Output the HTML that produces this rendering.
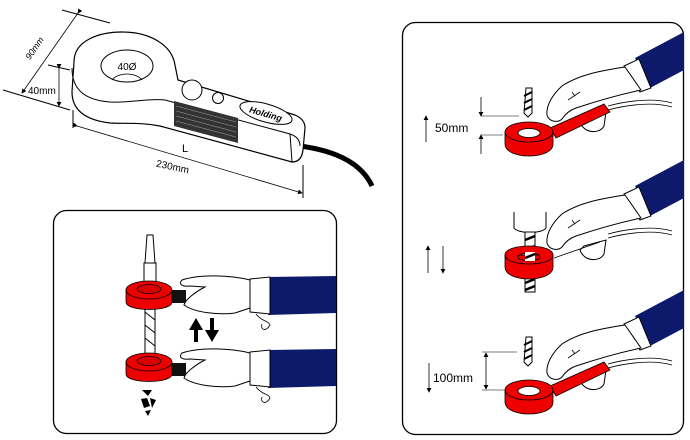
<!DOCTYPE html>
<html><head><meta charset="utf-8"><style>
html,body{margin:0;padding:0;background:#fff;}
svg{display:block;}
text{font-family:"Liberation Sans",sans-serif;}
</style></head><body>
<svg width="690" height="440" viewBox="0 0 690 440" xmlns="http://www.w3.org/2000/svg">
<defs>
<marker id="ah" markerWidth="6" markerHeight="6" refX="5" refY="3" orient="auto"><path d="M0,0 L6,3 L0,6 z" fill="#000"/></marker>
<g id="rhand">
  <path d="M635,58 L684,32 L684,70 L650,88 Z" fill="#0d1a6b"/>
  <path d="M624,66 L639,59 L651,88 L640,92 Z" fill="#fff" stroke="#000" stroke-width="1"/>
  <path d="M625,67 C605,70 580,74 562,86 C552,95 546,106 547,115 C549,122 558,123 562,119 C566,113 570,110 576,108 C600,100 622,94 641,90 Z" fill="#fff" stroke="#000" stroke-width="1"/>
  <path d="M580,122 C584,134 600,134 604,126 L606,112 L584,118 Z" fill="#fff" stroke="#000" stroke-width="1"/>
  <path d="M568,100 L580,92 M575,96 L572,92" stroke="#000" fill="none" stroke-width="0.8"/>
  <path d="M608,106 C630,100 655,98 672,103 M608,110 C630,104 655,102 672,107" stroke="#000" fill="none" stroke-width="0.8"/>
</g>
</defs>

<!-- ===== Top-left device ===== -->
<g stroke="#000" stroke-width="1" fill="none">
  <line x1="62" y1="10" x2="110" y2="23"/>
  <line x1="3" y1="90" x2="70" y2="110"/>
  <line x1="78" y1="13" x2="22" y2="93" marker-start="url(#ah)" marker-end="url(#ah)" stroke-width="0.8"/>
  <line x1="48" y1="65" x2="70" y2="70"/>
  <line x1="59" y1="68" x2="59" y2="106" marker-start="url(#ah)" marker-end="url(#ah)" stroke-width="0.8"/>
  <line x1="73" y1="110" x2="73" y2="128"/>
  <line x1="303" y1="165" x2="303" y2="198"/>
  <line x1="77" y1="126" x2="302" y2="193" marker-start="url(#ah)" marker-end="url(#ah)" stroke-width="0.8"/>
</g>
<path d="M300,146 C330,150 360,160 372,186" stroke="#000" stroke-width="5" fill="none"/>
<path d="M74,62 C74,40 100,32 122,32 C150,32 172,45 175,65 L178,80 L295,115 C302,118 305,122 305,128 L303,150 C302,158 298,162 292,162 L160,126 C140,122 125,124 110,123 C85,120 72,110 72,92 Z" fill="#fff" stroke="#000" stroke-width="1.2"/>
<path d="M72,68 C72,90 85,100 110,102 C130,103 150,98 165,100 L290,134 C296,136 300,140 300,146 M290,134 L292,162" fill="none" stroke="#000" stroke-width="1"/>
<ellipse cx="127" cy="66" rx="26" ry="16" fill="#fff" stroke="#000" stroke-width="1"/>
<path d="M112,80 C118,72 136,72 142,80" fill="none" stroke="#000" stroke-width="0.8"/>
<text x="127" y="70" font-size="10" text-anchor="middle">40Ø</text>
<circle cx="192" cy="90" r="10" fill="#fff" stroke="#000"/>
<circle cx="218" cy="98" r="5.5" fill="#fff" stroke="#000"/>
<path d="M174,101 L238,118 L238,143 L174,126 Z" fill="#333"/>
<path d="M176,106 L236,122 M176,111 L236,127 M176,116 L236,132 M176,121 L236,137" stroke="#999" stroke-width="0.6"/>
<ellipse cx="266" cy="113" rx="27" ry="9" transform="rotate(16 266 113)" fill="#fff" stroke="#000"/>
<text x="266" y="117" font-size="9" font-weight="bold" font-style="italic" text-anchor="middle" transform="rotate(16 266 113)">Holding</text>
<text x="37" y="50" font-size="9" font-style="italic" transform="rotate(-55 37 50)" text-anchor="middle">90mm</text>
<text x="28" y="94" font-size="10">40mm</text>
<text x="182" y="152" font-size="11" font-family="Liberation Serif">L</text>
<text x="172" y="170" font-size="10" text-anchor="middle" transform="rotate(12 172 170)">230mm</text>

<!-- ===== Bottom-left panel ===== -->
<rect x="53.5" y="210.5" width="283" height="223" rx="13" fill="none" stroke="#000" stroke-width="1.3"/>
<path d="M147,235 L153,235 L155,263 L145,263 Z" fill="#fff" stroke="#000"/>
<rect x="144" y="263" width="12" height="20" fill="#fff" stroke="#000"/>
<rect x="145" y="305" width="10" height="50" fill="#fff" stroke="#000"/>
<path d="M145,312 L155,320 M145,325 L155,333 M145,338 L155,346" stroke="#000"/>
<g>
<path d="M126,290 L126,302 C126,312 172,312 172,302 L172,290 Z" fill="#e00" stroke="#000" stroke-width="0.8"/>
<ellipse cx="149" cy="290" rx="23" ry="9" fill="#e00" stroke="#000" stroke-width="0.8"/>
<ellipse cx="149" cy="289" rx="12" ry="4.5" fill="#d00" stroke="#000" stroke-width="0.8"/>
</g>
<g>
<path d="M126,362 L126,374 C126,384 172,384 172,374 L172,362 Z" fill="#e00" stroke="#000" stroke-width="0.8"/>
<ellipse cx="149" cy="362" rx="23" ry="9" fill="#e00" stroke="#000" stroke-width="0.8"/>
<ellipse cx="149" cy="361" rx="12" ry="4.5" fill="#d00" stroke="#000" stroke-width="0.8"/>
</g>
<rect x="172" y="290" width="14" height="13" fill="#111"/>
<path d="M268,277 L336,276 L336,313 L268,315 Z" fill="#0d1a6b"/>
<path d="M250,279 L270,277 L270,314 L250,312 Z" fill="#fff" stroke="#000"/>
<path d="M250,280 C230,275 200,274 182,280 C178,284 182,287 190,286 L205,287 C195,292 185,300 184,305 C195,313 220,315 235,313 L250,308 Z" fill="#fff" stroke="#000"/>
<path d="M256,314 C262,322 268,320 270,325 C266,332 260,330 262,324" fill="none" stroke="#000" stroke-width="0.8"/>
<rect x="172" y="363" width="14" height="13" fill="#111"/>
<path d="M268,350 L336,349 L336,386 L268,388 Z" fill="#0d1a6b"/>
<path d="M250,352 L270,350 L270,387 L250,385 Z" fill="#fff" stroke="#000"/>
<path d="M250,353 C230,348 200,347 182,353 C178,357 182,360 190,359 L205,360 C195,365 185,373 184,378 C195,386 220,388 235,386 L250,381 Z" fill="#fff" stroke="#000"/>
<path d="M256,387 C262,395 268,393 270,398 C266,405 260,403 262,397" fill="none" stroke="#000" stroke-width="0.8"/>
<path d="M194,342 L194,330 L189,330 L196,318 L203,330 L198,330 L198,342 Z" fill="#000"/>
<path d="M210,318 L210,330 L205,330 L212,342 L219,330 L214,330 L214,318 Z" fill="#000"/>
<path d="M142,390 L152,390 L148,396 Z M141,399 L147,398 L150,406 L144,408 Z M150,398 L156,400 L152,408 Z M145,411 L151,410 L148,416 Z" fill="#000"/>

<!-- ===== Right panel ===== -->
<rect x="402.5" y="22.5" width="281" height="412" rx="13" fill="none" stroke="#000" stroke-width="1.3"/>
<use href="#rhand"/>
<path d="M526,88 L532,88 L532,113 L528,117 L524,113 Z" fill="#fff" stroke="#000"/>
<path d="M524,96 L532,92 M524,103 L532,99 M524,110 L532,106" stroke="#000" stroke-width="2"/>
<path d="M550,128 L604,104 L610,112 L556,138 Z" fill="#e00" stroke="#000" stroke-width="0.8"/>
<path d="M505,132 L505,144 C505,160 553,160 553,144 L553,132 Z" fill="#e00" stroke="#000" stroke-width="0.8"/>
<ellipse cx="529" cy="132" rx="24" ry="10" fill="#e00" stroke="#000" stroke-width="0.8"/>
<ellipse cx="529" cy="133" rx="11" ry="4.5" fill="#fff" stroke="#000" stroke-width="0.8"/>
<line x1="481" y1="116" x2="519" y2="116" stroke="#555" stroke-width="0.8"/>
<line x1="481" y1="135" x2="503" y2="135" stroke="#555" stroke-width="0.8"/>
<line x1="481" y1="97" x2="481" y2="116" stroke="#000" marker-end="url(#ah)" stroke-width="0.8"/>
<line x1="481" y1="154" x2="481" y2="135" stroke="#000" marker-end="url(#ah)" stroke-width="0.8"/>
<line x1="426" y1="142" x2="426" y2="116" stroke="#000" marker-end="url(#ah)" stroke-width="0.8"/>
<text x="435" y="132" font-size="12">50mm</text>
<g transform="translate(0,128)"><use href="#rhand"/></g>
<path d="M514,212 L514,228 C518,234 542,234 546,228 L546,212" fill="#fff" stroke="#000"/>
<rect x="525" y="232" width="10" height="60" fill="#fff" stroke="#000"/>
<path d="M525,240 L535,236 M525,250 L535,246 M525,283 L535,279 M525,290 L535,286" stroke="#000" stroke-width="2.5"/>
<path d="M505,255 L505,267 C505,283 553,283 553,267 L553,255 Z" fill="#e00" stroke="#000" stroke-width="0.8"/>
<path d="M505,255 C505,243 553,243 553,255 C553,267 505,267 505,255 Z M518,257 C518,262 540,262 540,257 C540,252 518,252 518,257 Z" fill="#e00" fill-rule="evenodd" stroke="#000" stroke-width="0.8"/>
<rect x="525" y="252" width="10" height="9" fill="#fff"/>
<path d="M525,258 L535,254" stroke="#000" stroke-width="2.5"/>
<line x1="554" y1="258" x2="600" y2="242" stroke="#000" stroke-width="0.8"/>
<line x1="428" y1="273" x2="428" y2="246" stroke="#000" marker-end="url(#ah)" stroke-width="0.8"/>
<line x1="443" y1="246" x2="443" y2="273" stroke="#000" marker-end="url(#ah)" stroke-width="0.8"/>
<g transform="translate(0,258)"><use href="#rhand"/></g>
<path d="M526,337 L532,337 L532,362 L528,366 L524,362 Z" fill="#fff" stroke="#000"/>
<path d="M524,345 L532,341 M524,352 L532,348 M524,359 L532,355" stroke="#000" stroke-width="2"/>
<path d="M550,386 L604,362 L610,370 L556,396 Z" fill="#e00" stroke="#000" stroke-width="0.8"/>
<path d="M505,390 L505,402 C505,418 553,418 553,402 L553,390 Z" fill="#e00" stroke="#000" stroke-width="0.8"/>
<ellipse cx="529" cy="390" rx="24" ry="10" fill="#e00" stroke="#000" stroke-width="0.8"/>
<ellipse cx="529" cy="391" rx="11" ry="4.5" fill="#fff" stroke="#000" stroke-width="0.8"/>
<line x1="482" y1="352" x2="517" y2="352" stroke="#555" stroke-width="0.8"/>
<line x1="482" y1="390" x2="505" y2="390" stroke="#555" stroke-width="0.8"/>
<line x1="486" y1="371" x2="486" y2="353" stroke="#000" marker-end="url(#ah)" stroke-width="0.8"/>
<line x1="486" y1="371" x2="486" y2="389" stroke="#000" marker-end="url(#ah)" stroke-width="0.8"/>
<line x1="429" y1="363" x2="429" y2="392" stroke="#000" marker-end="url(#ah)" stroke-width="0.8"/>
<text x="433" y="382" font-size="12">100mm</text>
</svg>
</body></html>
